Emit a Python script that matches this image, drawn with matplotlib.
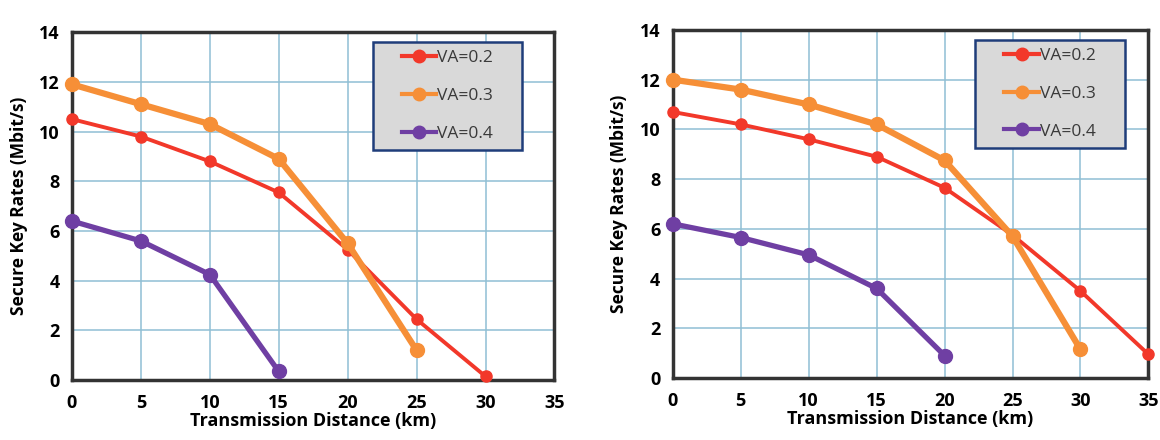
import matplotlib.pyplot as plt
from matplotlib.lines import Line2D
from matplotlib.patches import Rectangle

plt.rcParams['font.family'] = ['Open Sans', 'DejaVu Sans']

# data
dist_left = [0, 5, 10, 15, 20, 25, 30]
left_va02 = [10.5, 9.8, 8.8, 7.55, 5.25, 2.45, 0.15]
left_va03 = [11.9, 11.1, 10.3, 8.9, 5.5, 1.2]
left_va04 = [6.4, 5.6, 4.25, 0.35]

dist_right = [0, 5, 10, 15, 20, 25, 30, 35]
right_va02 = [10.7, 10.2, 9.6, 8.9, 7.65, 5.75, 3.5, 0.95]
right_va03 = [12.0, 11.6, 11.0, 10.2, 8.75, 5.7, 1.15]
right_va04 = [6.2, 5.65, 4.95, 3.6, 0.9]

labels = ['VA=0.2', 'VA=0.3', 'VA=0.4']
colors = ['#f2382a', '#f68f37', '#6f3fa3']
widths = [2.8, 4.5, 3.8]
msizes = [8, 10, 10]

xticks = [0, 5, 10, 15, 20, 25, 30, 35]
yticks = [0, 2, 4, 6, 8, 10, 12, 14]

fig = plt.figure(figsize=(11.6, 4.4), dpi=100)
ax1 = fig.add_axes([0.062, 0.136, 0.416, 0.791])
ax2 = fig.add_axes([0.580, 0.141, 0.410, 0.791])


def draw(ax, x, series, leg_x, leg_w):
    for ys, c, lw, ms in zip(series, colors, widths, msizes):
        ax.plot(x[:len(ys)], ys, color=c, lw=lw, marker='o', ms=ms,
                clip_on=False, zorder=3)
    ax.set_xlim(0, 35)
    ax.set_ylim(0, 14)
    ax.set_xticks(xticks)
    ax.set_yticks(yticks)
    ax.grid(True, color='#8fbfd4', lw=1.1)
    ax.set_axisbelow(True)
    ax.tick_params(length=0, labelsize=13)
    ax.tick_params(axis='x', pad=10)
    ax.tick_params(axis='y', pad=9)
    for t in ax.get_xticklabels() + ax.get_yticklabels():
        t.set_fontweight('bold')
    for s in ax.spines.values():
        s.set_color('#333333')
        s.set_linewidth(2.5)
    ax.set_xlabel('Transmission Distance (km)', fontsize=13,
                  fontweight='bold', labelpad=0)
    ax.set_ylabel('Secure Key Rates (Mbit/s)', fontsize=12.5,
                  fontweight='bold', labelpad=8)

    # legend box: grey panel with dark blue border, entries centred inside
    leg_h = 0.31
    leg_y = 0.972 - leg_h
    ax.add_patch(Rectangle((leg_x, leg_y), leg_w, leg_h,
                           transform=ax.transAxes, facecolor='#d9d9d9',
                           edgecolor='#1f3d7a', lw=1.8, zorder=4))
    handles = [Line2D([], [], color=c, lw=3, marker='o', ms=9)
               for c in colors]
    leg = ax.legend(handles, labels, loc='center',
                    bbox_to_anchor=(leg_x + leg_w / 2, leg_y + leg_h / 2),
                    fontsize=12.5, frameon=False, handlelength=2.0,
                    handletextpad=0.05, labelspacing=1.25,
                    borderpad=0, borderaxespad=0)
    leg.set_zorder(5)
    for t in leg.get_texts():
        t.set_color('#3a3a3a')


draw(ax1, dist_left, [left_va02, left_va03, left_va04], 0.623, 0.31)
draw(ax2, dist_right, [right_va02, right_va03, right_va04], 0.636, 0.315)

fig.savefig('out.png', dpi=100)
